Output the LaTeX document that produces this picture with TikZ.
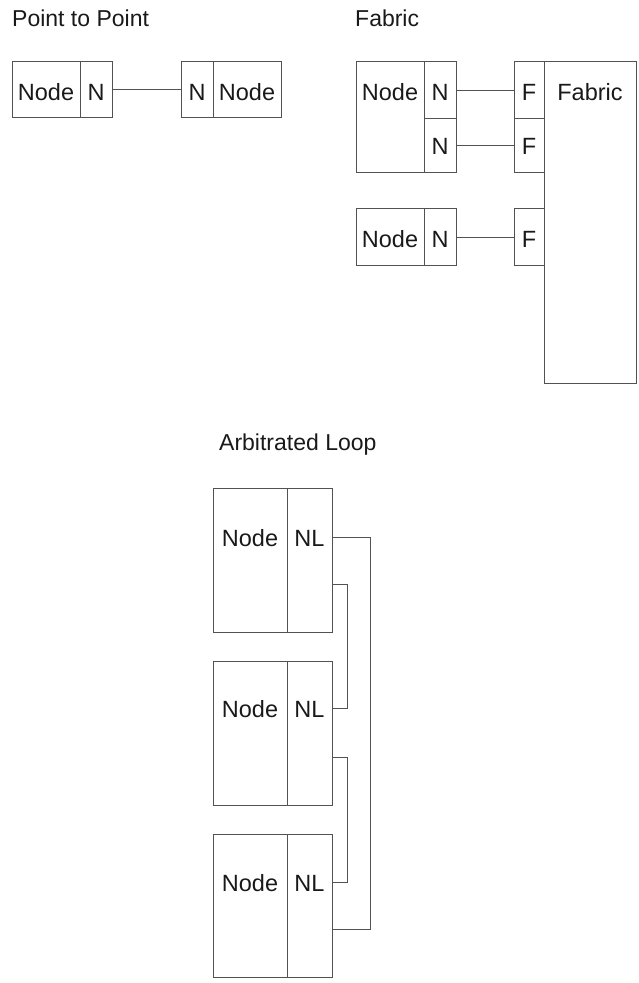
\documentclass[tikz,border=0pt]{standalone}
\usepackage{fontspec}
\setmainfont{Liberation Sans}
\usetikzlibrary{calc}
\begin{document}
\begin{tikzpicture}[x=1pt,y=-1pt,
  cell/.style={draw=black!68, line width=0.9pt, inner sep=0pt, anchor=north west, rectangle},
  lbl/.style={font=\fontsize{23.5}{25}\selectfont, text=black!90, inner sep=0pt, anchor=base},
  title/.style={font=\fontsize{23}{25}\selectfont, text=black!90, inner sep=0pt, anchor=base west},
  wire/.style={draw=black!68, line width=0.9pt}]
\useasboundingbox (0,0) rectangle (638,983);
% ---------- Point to Point ----------
\node[title] (tp) at (12,26) {Point to Point};
\node[cell, minimum width=68, minimum height=56] (p1a) at (12,61) {};
\node[cell, minimum width=32, minimum height=56] (p1b) at (80,61) {};
\node[cell, minimum width=32, minimum height=56] (p2b) at (181,61) {};
\node[cell, minimum width=68, minimum height=56] (p2a) at (213,61) {};
\node[lbl] (tp1a) at (46,100) {Node};
\node[lbl] (tp1b) at (96,100) {N};
\node[lbl] (tp2b) at (197,100) {N};
\node[lbl] (tp2a) at (247,100) {Node};
\draw[wire] (p1b.east) -- (p2b.west);
% ---------- Fabric ----------
\node[title] (tf) at (355,26) {Fabric};
\node[cell, minimum width=68, minimum height=111] (f1a) at (356,61) {};
\node[cell, minimum width=32, minimum height=57] (f1b) at (424,61) {};
\node[cell, minimum width=32, minimum height=54] (f1c) at (424,118) {};
\node[cell, minimum width=68, minimum height=57] (f2a) at (356,208) {};
\node[cell, minimum width=32, minimum height=57] (f2b) at (424,208) {};
\node[cell, minimum width=30, minimum height=57] (ff1) at (514,61) {};
\node[cell, minimum width=30, minimum height=54] (ff2) at (514,118) {};
\node[cell, minimum width=30, minimum height=57] (ff3) at (514,208) {};
\node[cell, minimum width=92, minimum height=322] (fab) at (544,61) {};
\node[lbl] (tf1a) at (390,100) {Node};
\node[lbl] (tf1b) at (440,100) {N};
\node[lbl] (tf1c) at (440,154) {N};
\node[lbl] (tf2a) at (390,247) {Node};
\node[lbl] (tf2b) at (440,247) {N};
\node[lbl] (tff1) at (529,100) {F};
\node[lbl] (tff2) at (529,154) {F};
\node[lbl] (tff3) at (529,247) {F};
\node[lbl] (tfab) at (590,100) {Fabric};
\draw[wire] (f1b.east) -- (ff1.west);
\draw[wire] (f1c.east) -- (ff2.west);
\draw[wire] (f2b.east) -- (ff3.west);
% ---------- Arbitrated Loop ----------
\node[title] (ta) at (219,450) {Arbitrated Loop};
\node[cell, minimum width=74, minimum height=144] (a1a) at (213,488) {};
\node[cell, minimum width=45, minimum height=144] (a1b) at (287,488) {};
\node[cell, minimum width=74, minimum height=144] (a2a) at (213,661) {};
\node[cell, minimum width=45, minimum height=144] (a2b) at (287,661) {};
\node[cell, minimum width=74, minimum height=143] (a3a) at (213,834) {};
\node[cell, minimum width=45, minimum height=143] (a3b) at (287,834) {};
\node[lbl] (ta1a) at (250,546) {Node};
\node[lbl] (ta1b) at (309.5,546) {NL};
\node[lbl] (ta2a) at (250,717) {Node};
\node[lbl] (ta2b) at (309.5,717) {NL};
\node[lbl] (ta3a) at (250,891) {Node};
\node[lbl] (ta3b) at (309.5,891) {NL};
\coordinate (o1) at ($(a1b.north east)+(0,49)$);
\coordinate (o3) at ($(a3b.north east)+(0,95)$);
\coordinate (i1) at ($(a1b.north east)+(0,96)$);
\coordinate (i2) at ($(a2b.north east)+(0,47)$);
\coordinate (j2) at ($(a2b.north east)+(0,96)$);
\coordinate (j3) at ($(a3b.north east)+(0,48)$);
\draw[wire] (o1) -- ++(38,0) |- (o3);
\draw[wire] (i1) -- ++(15,0) |- (i2);
\draw[wire] (j2) -- ++(15,0) |- (j3);
\end{tikzpicture}
\end{document}
